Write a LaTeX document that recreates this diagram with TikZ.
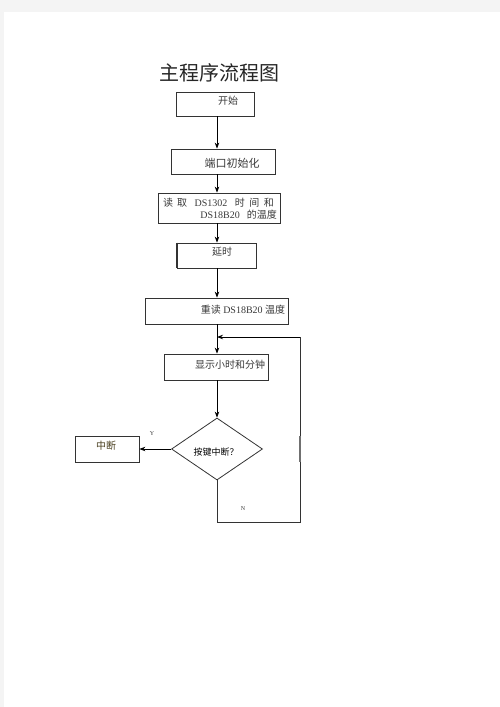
\documentclass[tikz,border=0pt]{standalone}
\usepackage{fontspec}
\setmainfont{Liberation Serif}
\newfontfamily\cjk{Noto Sans CJK SC}
\usetikzlibrary{shapes.geometric,arrows.meta}
\definecolor{pagebg}{HTML}{F4F4F4}
\definecolor{linec}{HTML}{333333}
\definecolor{txt}{HTML}{3A3A3A}
\definecolor{olivetxt}{HTML}{4A4020}
\tikzset{
  box/.style={draw=linec, line width=0.8pt, rectangle, inner sep=0pt},
  dia/.style={draw=linec, line width=0.8pt, diamond, inner sep=0pt, aspect=1.47},
  btext/.style={text=txt, font=\fontsize{10}{12}\selectfont, inner sep=0pt},
  yn/.style={text=txt, font=\fontsize{6}{7}\selectfont, inner sep=0pt},
  flow/.style={draw=black, line width=0.8pt, -{Stealth[length=6pt,width=4.5pt]}},
  plain/.style={draw=linec, line width=0.8pt},
}
\begin{document}
\begin{tikzpicture}[x=1pt,y=-1pt]
\useasboundingbox (0,0) rectangle (500,707);
\fill[pagebg] (0,0) rectangle (500,707);
\fill[white] (4,12) rectangle (500,707);
% title
\node[inner sep=0pt, font=\cjk\fontsize{20}{22}\selectfont, text=black!85] (title) at (219,73) {主程序流程图};
% boxes
\node[box, minimum width=78pt, minimum height=24pt] (start) at (215,104) {};
\node[btext] (starttxt) at (228,101) {\cjk 开始};
\node[box, minimum width=104pt, minimum height=25pt] (init) at (223,161.5) {};
\node[btext, font=\fontsize{11}{13}\selectfont] (inittxt) at (232,163) {\cjk 端口初始化};
\node[box, minimum width=122pt, minimum height=30pt] (read) at (219,208) {};
\node[btext, anchor=west] (readtxt1) at (163,202.5) {{\cjk 读\hspace{4pt}取}\hspace{7.5pt}DS1302\hspace{7.5pt}{\cjk 时\hspace{4.5pt}间\hspace{4.5pt}和}};
\node[btext, anchor=east] (readtxt2) at (277,215) {DS18B20\hspace{7pt}{\cjk 的温度}};
\node[box, minimum width=79pt, minimum height=25pt] (delay) at (216.5,255.5) {};
\draw[linec, line width=1.8pt] (delay.north west) -- (delay.south west);
\node[btext] (delaytxt) at (222,252) {\cjk 延时};
\node[box, minimum width=143pt, minimum height=26pt] (reread) at (216.5,311) {};
\node[btext] (rereadtxt) at (243,310) {{\cjk 重读} DS18B20 {\cjk 温度}};
\node[box, minimum width=104pt, minimum height=26pt] (show) at (216,367) {};
\node[btext] (showtxt) at (230,365) {\cjk 显示小时和分钟};
\node[dia, minimum width=91pt, minimum height=62pt] (key) at (217,449) {};
\node[btext, font=\cjk\fontsize{9}{11}\selectfont, text=black] (keytxt) at (216,452) {按键中断？};
\node[box, minimum width=64pt, minimum height=26pt] (intr) at (107,449) {};
\node[btext, text=olivetxt] (intrtxt) at (106,446) {\cjk 中断};
\node[yn] (ylab) at (152,434) {Y};
\node[yn] (nlab) at (243,509) {N};
% connectors
\coordinate (sp) at (217,0);
\coordinate (join) at (217,337);
\coordinate (nb) at (217,522);
\coordinate (nr) at (300,522);
\coordinate (nt) at (300,337);
\draw[flow] (start.south -| sp) -- (init.north -| sp);
\draw[flow] (init.south -| sp) -- (read.north -| sp);
\draw[flow] (read.south -| sp) -- (delay.north -| sp);
\draw[flow] (delay.south -| sp) -- (reread.north -| sp);
\draw[flow] (reread.south -| sp) -- (show.north -| sp);
\draw[flow] (show.south -| sp) -- (key.north);
\draw[flow] (key.west) -- (intr.east);
\draw[plain] (key.south) -- (nb) -- (nr) -- (nt);
\draw[flow] (nt) -- (join);
\draw[linec!70, line width=1.5pt] (300,436) -- (300,462);
\end{tikzpicture}
\end{document}
